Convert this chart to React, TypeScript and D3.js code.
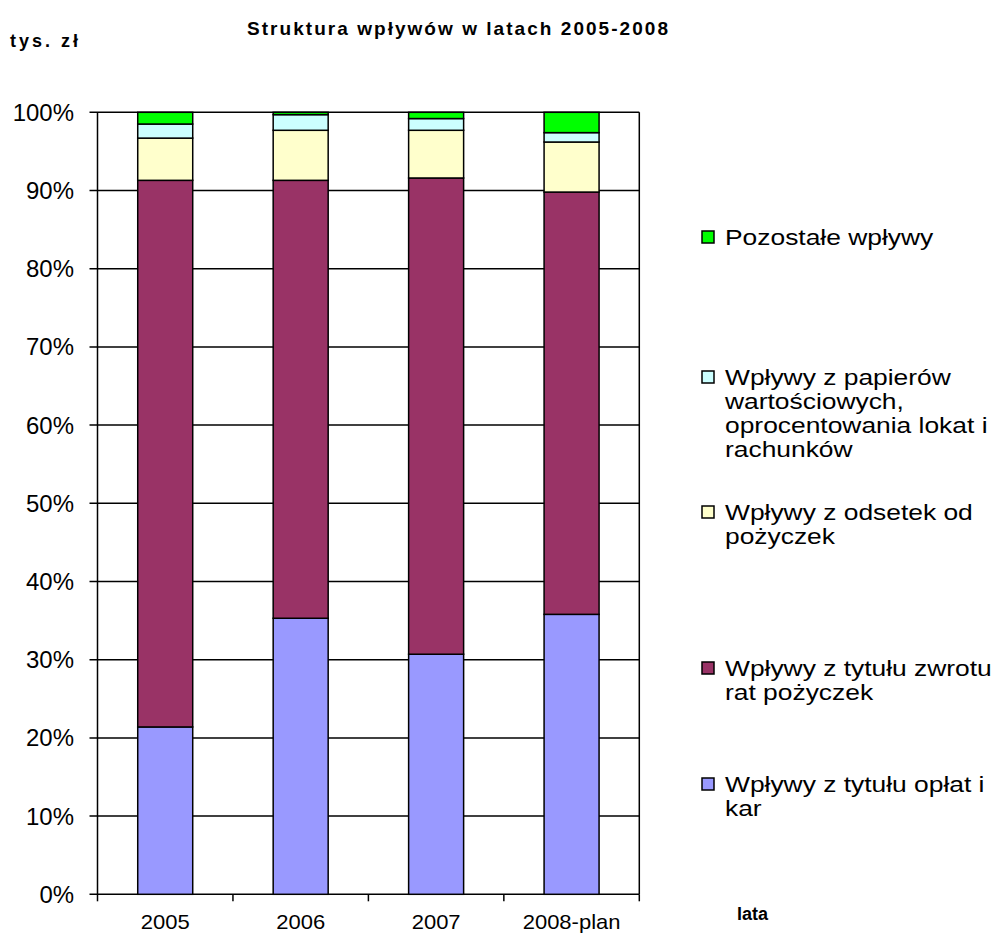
import * as d3 from 'd3';

// chart data
const years = ['2005', '2006', '2007', '2008-plan'];
const oplatyKary = [21.4, 35.3, 30.7, 35.8];
const zwrotRat = [69.9, 56.0, 60.9, 54.0];
const odsetki = [5.4, 6.4, 6.1, 6.4];
const papiery = [1.8, 2.0, 1.5, 1.2];
const pozostale = [1.5, 0.3, 0.8, 2.6];
const yTicks = [0, 0.1, 0.2, 0.3, 0.4, 0.5, 0.6, 0.7, 0.8, 0.9, 1];

const SERIES = [
    { key: 'oplaty', values: oplatyKary, color: '#9999FF', label: ['Wpływy z tytułu opłat i', 'kar'] },
    { key: 'zwrot', values: zwrotRat, color: '#993366', label: ['Wpływy z tytułu zwrotu', 'rat pożyczek'] },
    { key: 'odsetki', values: odsetki, color: '#FFFFCC', label: ['Wpływy z odsetek od', 'pożyczek'] },
    { key: 'papiery', values: papiery, color: '#CCFFFF', label: ['Wpływy z papierów', 'wartościowych,', 'oprocentowania lokat i', 'rachunków'] },
    { key: 'pozostale', values: pozostale, color: '#00FF00', label: ['Pozostałe wpływy'] },
];

// layout
const W = 997;
const H = 936;
const PLOT = { left: 97.5, right: 639.3, top: 112.3, bottom: 894.3 };
const LEGEND_X = 702;
const LEGEND_TOP = { pozostale: 237, papiery: 377, odsetki: 512, zwrot: 668, oplaty: 784 };
const LINE_H = 24;
const FONT = 'Arial, "Liberation Sans", sans-serif';

const Stretch = ({ x, y, sx, children, ...rest }: any) => (
    <text transform={`translate(${x},${y}) scale(${sx},1)`} fontFamily={FONT} {...rest}>
        {children}
    </text>
);

export default function App() {
    const table = years.map((year, i) => {
        const row: any = { year };
        SERIES.forEach(s => (row[s.key] = s.values[i]));
        return row;
    });

    const stacked = d3
        .stack()
        .keys(SERIES.map(s => s.key))
        .offset(d3.stackOffsetExpand)(table);

    const xScale = d3
        .scaleBand()
        .domain(years)
        .range([PLOT.left, PLOT.right])
        .paddingInner(0.594)
        .paddingOuter(0.297);

    const yScale = d3.scaleLinear().domain([0, 1]).range([PLOT.bottom, PLOT.top]);

    const step = xScale.step();
    const boundaries = d3.range(years.length + 1).map(i => PLOT.left + i * step);

    return (
        <svg width={W} height={H} style={{ position: 'absolute', left: 0, top: 0, background: '#fff' }}>
            <rect x={0} y={0} width={W} height={H} fill="#fff" />

            {/* titles */}
            <text x={247} y={35} fontFamily={FONT} fontWeight="bold" fontSize={19} textLength={421} lengthAdjust="spacing">
                Struktura wpływów w latach 2005-2008
            </text>
            <text x={10} y={47} fontFamily={FONT} fontWeight="bold" fontSize={18} textLength={68} lengthAdjust="spacing">
                tys. zł
            </text>

            {/* grid */}
            {yTicks.map(t => (
                <g key={t}>
                    <line x1={PLOT.left - 8} x2={PLOT.right} y1={yScale(t)} y2={yScale(t)} stroke="#000" strokeWidth={1.5} />
                    <Stretch x={74} y={yScale(t) + 8.5} sx={1.02} fontSize={23.5} textAnchor="end" fill="#000">
                        {`${Math.round(t * 100)}%`}
                    </Stretch>
                </g>
            ))}
            <line x1={PLOT.left} x2={PLOT.left} y1={PLOT.top} y2={PLOT.bottom} stroke="#000" strokeWidth={1.5} />
            <line x1={PLOT.right} x2={PLOT.right} y1={PLOT.top} y2={PLOT.bottom} stroke="#000" strokeWidth={1.5} />
            {boundaries.map((bx, i) => (
                <line key={i} x1={bx} x2={bx} y1={PLOT.bottom} y2={PLOT.bottom + 7} stroke="#000" strokeWidth={1.5} />
            ))}

            {/* bars */}
            {stacked.map((layer, li) => (
                <g key={layer.key} fill={SERIES[li].color}>
                    {layer.map((d: any, i) => {
                        const x = xScale(years[i]) as number;
                        return (
                            <rect
                                key={i}
                                x={x}
                                y={yScale(d[1])}
                                width={xScale.bandwidth()}
                                height={yScale(d[0]) - yScale(d[1])}
                                stroke="#000"
                                strokeWidth={1.5}
                            />
                        );
                    })}
                </g>
            ))}

            {/* x labels */}
            {years.map(y => (
                <Stretch key={y} x={(xScale(y) as number) + xScale.bandwidth() / 2} y={929} sx={1.1} fontSize={20} textAnchor="middle">
                    {y}
                </Stretch>
            ))}
            <text x={737} y={920} fontFamily={FONT} fontWeight="bold" fontSize={18}>
                lata
            </text>

            {/* legend */}
            {SERIES.map(s => {
                const top = (LEGEND_TOP as any)[s.key];
                return (
                    <g key={s.key}>
                        <rect x={LEGEND_X} y={top - 6} width={12} height={12} fill={s.color} stroke="#000" strokeWidth={1.5} />
                        {s.label.map((line, li) => (
                            <Stretch key={li} x={725} y={top + 8 + li * LINE_H} sx={1.2} fontSize={22}>
                                {line}
                            </Stretch>
                        ))}
                    </g>
                );
            })}
        </svg>
    );
}
